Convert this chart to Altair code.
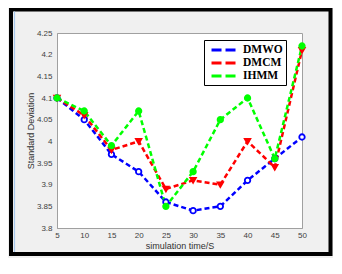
import altair as alt
import pandas as pd

times = [5, 10, 15, 20, 25, 30, 35, 40, 45, 50]
dmwo = [4.10, 4.05, 3.97, 3.93, 3.86, 3.84, 3.85, 3.91, 3.96, 4.01]
dmcm = [4.10, 4.06, 3.98, 4.00, 3.89, 3.91, 3.90, 4.00, 3.94, 4.21]
ihmm = [4.10, 4.07, 3.99, 4.07, 3.85, 3.93, 4.05, 4.10, 3.96, 4.22]
series_names = ["DMWO", "DMCM", "IHMM"]
colors = ["#0000ff", "#ff0000", "#00ff00"]
fills = ["#ffffff", "#ff0000", "#00ff00"]
shapes = ["circle", "triangle-down", "circle"]
y_ticks = [3.8, 3.85, 3.9, 3.95, 4.0, 4.05, 4.1, 4.15, 4.2, 4.25]

rows = []
for name, vals in zip(series_names, [dmwo, dmcm, ihmm]):
    for t, v in zip(times, vals):
        rows.append({"time": t, "value": v, "series": name, "marker": name + " "})
df = pd.DataFrame(rows)
marker_names = [n + " " for n in series_names]

W, H = 245, 195
PL, PT, PR, PB = 49, 25, 31, 30

x_enc = alt.X("time:Q", scale=alt.Scale(domain=[5, 50], nice=False),
              axis=alt.Axis(values=times, title="simulation time/S", grid=False,
                            ticks=False, labelPadding=3, titlePadding=2,
                            labelOverlap=False, labelFlush=False))
y_enc = alt.Y("value:Q", scale=alt.Scale(domain=[3.8, 4.25], nice=False, zero=False),
              axis=alt.Axis(values=y_ticks, format=".3~g", title="Standard Deviation",
                            grid=False, ticks=False, labelPadding=5, titlePadding=1,
                            labelOverlap=False, labelFlush=False))

base = alt.Chart(df).encode(x=x_enc, y=y_enc)

lines = base.mark_line(strokeWidth=2.5, strokeDash=[5, 3]).encode(
    color=alt.Color("series:N", sort=series_names,
                    scale=alt.Scale(domain=series_names, range=colors),
                    legend=alt.Legend(title=None, orient="none", legendX=147, legendY=7,
                                      symbolType="M-2.27,0H2.27", symbolSize=121,
                                      symbolStrokeWidth=3, symbolDash=[10, 4],
                                      symbolOffset=10, labelOffset=12,
                                      labelFont="Liberation Serif", labelFontWeight="bold",
                                      labelFontSize=11.5, labelColor="#000000",
                                      fillColor="#ffffff", strokeColor="#000000",
                                      padding=3, rowPadding=0)),
)

points = base.mark_point(size=30, strokeWidth=1.8, opacity=1).encode(
    stroke=alt.Stroke("marker:N", scale=alt.Scale(domain=marker_names, range=colors), legend=None),
    fill=alt.Fill("marker:N", scale=alt.Scale(domain=marker_names, range=fills), legend=None),
    shape=alt.Shape("marker:N", scale=alt.Scale(domain=marker_names, range=shapes), legend=None),
)

one = pd.DataFrame({"a": [0]})
frame = alt.Chart(one).mark_rect(
    fill=None, stroke="#000000", strokeWidth=4
).encode(
    x=alt.value(-PL + 3), x2=alt.value(W + PR - 2.5),
    y=alt.value(-PT + 1.5), y2=alt.value(H + PB - 4),
)
edge = alt.Chart(one).mark_rule(stroke="#a8c8ec", strokeWidth=1.2).encode(
    x=alt.value(-PL + 6.5), y=alt.value(-PT + 3.5), y2=alt.value(H + PB - 6),
)

chart = alt.layer(lines, points, frame, edge).resolve_scale(
    color="independent", stroke="independent", fill="independent", shape="independent"
).properties(
    width=W, height=H,
    autosize=alt.AutoSizeParams(type="none"),
    padding={"left": PL, "top": PT, "right": PR, "bottom": PB},
    background="#f0f0f0",
).configure_view(
    stroke="#a0a0a0", fill="#ffffff"
).configure_axis(
    domainColor="#a0a0a0", labelColor="#404040", titleColor="#303030",
    labelFont="Arial", titleFont="Arial", labelFontSize=8, titleFontSize=9,
    titleFontWeight="normal",
)

chart.save("out.html", embed_options={"renderer": "svg", "actions": False})
